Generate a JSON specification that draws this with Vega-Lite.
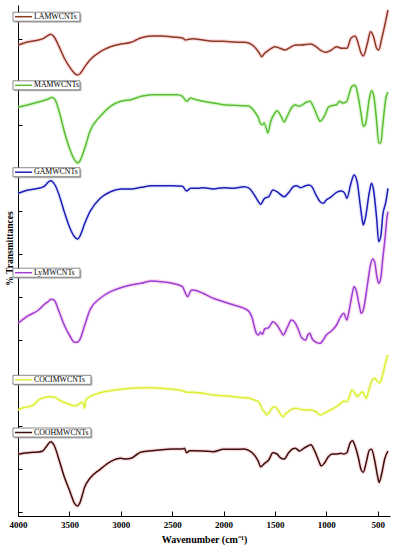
{
  "$schema": "https://vega.github.io/schema/vega-lite/v6.json",
  "width": 372,
  "height": 511,
  "autosize": {"type": "none"},
  "padding": {"left": 18, "top": 5, "right": 4, "bottom": 34},
  "background": "white",
  "config": {
    "view": {"stroke": null},
    "axis": {"grid": false, "domainColor": "#000", "tickColor": "#000", "labelFont": "Liberation Serif", "titleFont": "Liberation Serif", "labelFontWeight": "bold", "titleFontWeight": "bold", "labelColor": "#000", "titleColor": "#000"}
  },
  "datasets": {
    "spectra": [
      {"s":"LAMWCNTs","w":4000,"t":471},{"s":"LAMWCNTs","w":3900,"t":474.3},{"s":"LAMWCNTs","w":3800,"t":476},{"s":"LAMWCNTs","w":3750,"t":477.7},{"s":"LAMWCNTs","w":3700,"t":481},{"s":"LAMWCNTs","w":3680,"t":481.7},{"s":"LAMWCNTs","w":3650,"t":479.3},{"s":"LAMWCNTs","w":3600,"t":469.3},{"s":"LAMWCNTs","w":3550,"t":458},{"s":"LAMWCNTs","w":3500,"t":449.3},{"s":"LAMWCNTs","w":3450,"t":442.7},{"s":"LAMWCNTs","w":3420,"t":441},{"s":"LAMWCNTs","w":3400,"t":442},{"s":"LAMWCNTs","w":3350,"t":449.3},{"s":"LAMWCNTs","w":3300,"t":456},{"s":"LAMWCNTs","w":3200,"t":464.3},{"s":"LAMWCNTs","w":3100,"t":469.3},{"s":"LAMWCNTs","w":3000,"t":472},{"s":"LAMWCNTs","w":2900,"t":473.7},{"s":"LAMWCNTs","w":2850,"t":476},{"s":"LAMWCNTs","w":2800,"t":478.3},{"s":"LAMWCNTs","w":2700,"t":480},{"s":"LAMWCNTs","w":2600,"t":480},{"s":"LAMWCNTs","w":2500,"t":479},{"s":"LAMWCNTs","w":2400,"t":478},{"s":"LAMWCNTs","w":2370,"t":476},{"s":"LAMWCNTs","w":2340,"t":476.7},{"s":"LAMWCNTs","w":2300,"t":477.3},{"s":"LAMWCNTs","w":2200,"t":476},{"s":"LAMWCNTs","w":2100,"t":474.7},{"s":"LAMWCNTs","w":2000,"t":474.7},{"s":"LAMWCNTs","w":1900,"t":474},{"s":"LAMWCNTs","w":1800,"t":473.7},{"s":"LAMWCNTs","w":1750,"t":472.7},{"s":"LAMWCNTs","w":1700,"t":469.3},{"s":"LAMWCNTs","w":1650,"t":462.7},{"s":"LAMWCNTs","w":1630,"t":459.3},{"s":"LAMWCNTs","w":1600,"t":462.7},{"s":"LAMWCNTs","w":1550,"t":466.7},{"s":"LAMWCNTs","w":1500,"t":469.3},{"s":"LAMWCNTs","w":1450,"t":467.7},{"s":"LAMWCNTs","w":1400,"t":466},{"s":"LAMWCNTs","w":1350,"t":468.7},{"s":"LAMWCNTs","w":1300,"t":471},{"s":"LAMWCNTs","w":1250,"t":471},{"s":"LAMWCNTs","w":1150,"t":472},{"s":"LAMWCNTs","w":1100,"t":469.3},{"s":"LAMWCNTs","w":1050,"t":465.3},{"s":"LAMWCNTs","w":1000,"t":463.7},{"s":"LAMWCNTs","w":950,"t":466},{"s":"LAMWCNTs","w":900,"t":469.3},{"s":"LAMWCNTs","w":850,"t":467.7},{"s":"LAMWCNTs","w":800,"t":467.7},{"s":"LAMWCNTs","w":760,"t":477.7},{"s":"LAMWCNTs","w":720,"t":480},{"s":"LAMWCNTs","w":700,"t":476},{"s":"LAMWCNTs","w":660,"t":462.7},{"s":"LAMWCNTs","w":640,"t":460},{"s":"LAMWCNTs","w":600,"t":472.7},{"s":"LAMWCNTs","w":570,"t":484.3},{"s":"LAMWCNTs","w":540,"t":479.3},{"s":"LAMWCNTs","w":510,"t":467.7},{"s":"LAMWCNTs","w":490,"t":466},{"s":"LAMWCNTs","w":460,"t":477.7},{"s":"LAMWCNTs","w":430,"t":491},{"s":"LAMWCNTs","w":410,"t":501},{"s":"LAMWCNTs","w":400,"t":506},

      {"s":"MAMWCNTs","w":4000,"t":408.7},{"s":"MAMWCNTs","w":3900,"t":411.3},{"s":"MAMWCNTs","w":3800,"t":414},{"s":"MAMWCNTs","w":3700,"t":417.3},{"s":"MAMWCNTs","w":3670,"t":418.7},{"s":"MAMWCNTs","w":3640,"t":416.3},{"s":"MAMWCNTs","w":3600,"t":404.7},{"s":"MAMWCNTs","w":3550,"t":384.7},{"s":"MAMWCNTs","w":3500,"t":368},{"s":"MAMWCNTs","w":3450,"t":356.3},{"s":"MAMWCNTs","w":3420,"t":353},{"s":"MAMWCNTs","w":3400,"t":354.7},{"s":"MAMWCNTs","w":3350,"t":368},{"s":"MAMWCNTs","w":3300,"t":384.7},{"s":"MAMWCNTs","w":3200,"t":399.7},{"s":"MAMWCNTs","w":3100,"t":409.7},{"s":"MAMWCNTs","w":3000,"t":414.7},{"s":"MAMWCNTs","w":2900,"t":416.3},{"s":"MAMWCNTs","w":2800,"t":419.7},{"s":"MAMWCNTs","w":2700,"t":421.3},{"s":"MAMWCNTs","w":2600,"t":421.3},{"s":"MAMWCNTs","w":2500,"t":421.3},{"s":"MAMWCNTs","w":2450,"t":421.3},{"s":"MAMWCNTs","w":2400,"t":419.7},{"s":"MAMWCNTs","w":2360,"t":414.7},{"s":"MAMWCNTs","w":2320,"t":418},{"s":"MAMWCNTs","w":2300,"t":417.3},{"s":"MAMWCNTs","w":2200,"t":414.7},{"s":"MAMWCNTs","w":2100,"t":413},{"s":"MAMWCNTs","w":2000,"t":411.3},{"s":"MAMWCNTs","w":1900,"t":410.7},{"s":"MAMWCNTs","w":1800,"t":410.3},{"s":"MAMWCNTs","w":1750,"t":409.7},{"s":"MAMWCNTs","w":1700,"t":404.7},{"s":"MAMWCNTs","w":1660,"t":398},{"s":"MAMWCNTs","w":1640,"t":392},{"s":"MAMWCNTs","w":1620,"t":391.3},{"s":"MAMWCNTs","w":1605,"t":393},{"s":"MAMWCNTs","w":1580,"t":386.3},{"s":"MAMWCNTs","w":1570,"t":383},{"s":"MAMWCNTs","w":1540,"t":394.7},{"s":"MAMWCNTs","w":1500,"t":403},{"s":"MAMWCNTs","w":1480,"t":405.3},{"s":"MAMWCNTs","w":1440,"t":399.7},{"s":"MAMWCNTs","w":1410,"t":394},{"s":"MAMWCNTs","w":1380,"t":399.7},{"s":"MAMWCNTs","w":1340,"t":408},{"s":"MAMWCNTs","w":1300,"t":411.3},{"s":"MAMWCNTs","w":1270,"t":409.7},{"s":"MAMWCNTs","w":1230,"t":411.3},{"s":"MAMWCNTs","w":1190,"t":414},{"s":"MAMWCNTs","w":1160,"t":414.7},{"s":"MAMWCNTs","w":1120,"t":408},{"s":"MAMWCNTs","w":1080,"t":398},{"s":"MAMWCNTs","w":1060,"t":394.7},{"s":"MAMWCNTs","w":1020,"t":399.7},{"s":"MAMWCNTs","w":980,"t":408.7},{"s":"MAMWCNTs","w":950,"t":410.3},{"s":"MAMWCNTs","w":900,"t":411.3},{"s":"MAMWCNTs","w":870,"t":414.7},{"s":"MAMWCNTs","w":840,"t":413},{"s":"MAMWCNTs","w":800,"t":414.7},{"s":"MAMWCNTs","w":780,"t":421.3},{"s":"MAMWCNTs","w":750,"t":429.7},{"s":"MAMWCNTs","w":720,"t":430.7},{"s":"MAMWCNTs","w":700,"t":424.7},{"s":"MAMWCNTs","w":660,"t":401.3},{"s":"MAMWCNTs","w":640,"t":389.7},{"s":"MAMWCNTs","w":620,"t":391.3},{"s":"MAMWCNTs","w":580,"t":418},{"s":"MAMWCNTs","w":560,"t":425.3},{"s":"MAMWCNTs","w":540,"t":421.3},{"s":"MAMWCNTs","w":510,"t":394.7},{"s":"MAMWCNTs","w":490,"t":373},{"s":"MAMWCNTs","w":470,"t":373},{"s":"MAMWCNTs","w":450,"t":391.3},{"s":"MAMWCNTs","w":420,"t":418},{"s":"MAMWCNTs","w":400,"t":424},

      {"s":"GAMWCNTs","w":4000,"t":322.7},{"s":"GAMWCNTs","w":3900,"t":326},{"s":"GAMWCNTs","w":3800,"t":327.7},{"s":"GAMWCNTs","w":3750,"t":329.3},{"s":"GAMWCNTs","w":3700,"t":334.3},{"s":"GAMWCNTs","w":3680,"t":335.3},{"s":"GAMWCNTs","w":3640,"t":331},{"s":"GAMWCNTs","w":3600,"t":321},{"s":"GAMWCNTs","w":3550,"t":304.3},{"s":"GAMWCNTs","w":3500,"t":289.3},{"s":"GAMWCNTs","w":3450,"t":279.3},{"s":"GAMWCNTs","w":3420,"t":277},{"s":"GAMWCNTs","w":3400,"t":279.3},{"s":"GAMWCNTs","w":3350,"t":292.7},{"s":"GAMWCNTs","w":3300,"t":304.3},{"s":"GAMWCNTs","w":3200,"t":317.7},{"s":"GAMWCNTs","w":3100,"t":324.3},{"s":"GAMWCNTs","w":3000,"t":327},{"s":"GAMWCNTs","w":2900,"t":327},{"s":"GAMWCNTs","w":2800,"t":328.7},{"s":"GAMWCNTs","w":2700,"t":330.3},{"s":"GAMWCNTs","w":2600,"t":330.3},{"s":"GAMWCNTs","w":2500,"t":330.3},{"s":"GAMWCNTs","w":2400,"t":329.7},{"s":"GAMWCNTs","w":2360,"t":325},{"s":"GAMWCNTs","w":2320,"t":327.7},{"s":"GAMWCNTs","w":2250,"t":327.7},{"s":"GAMWCNTs","w":2200,"t":328.3},{"s":"GAMWCNTs","w":2100,"t":327},{"s":"GAMWCNTs","w":2000,"t":328.3},{"s":"GAMWCNTs","w":1900,"t":327.7},{"s":"GAMWCNTs","w":1800,"t":329.3},{"s":"GAMWCNTs","w":1750,"t":327.7},{"s":"GAMWCNTs","w":1700,"t":321},{"s":"GAMWCNTs","w":1660,"t":314.3},{"s":"GAMWCNTs","w":1640,"t":311.7},{"s":"GAMWCNTs","w":1600,"t":317.7},{"s":"GAMWCNTs","w":1560,"t":319.3},{"s":"GAMWCNTs","w":1520,"t":326},{"s":"GAMWCNTs","w":1480,"t":324.3},{"s":"GAMWCNTs","w":1440,"t":321},{"s":"GAMWCNTs","w":1410,"t":319.3},{"s":"GAMWCNTs","w":1360,"t":324.3},{"s":"GAMWCNTs","w":1320,"t":329.3},{"s":"GAMWCNTs","w":1290,"t":330.3},{"s":"GAMWCNTs","w":1250,"t":328.3},{"s":"GAMWCNTs","w":1200,"t":330.3},{"s":"GAMWCNTs","w":1170,"t":331},{"s":"GAMWCNTs","w":1140,"t":329.3},{"s":"GAMWCNTs","w":1100,"t":321},{"s":"GAMWCNTs","w":1060,"t":314.3},{"s":"GAMWCNTs","w":1030,"t":312.7},{"s":"GAMWCNTs","w":1000,"t":316},{"s":"GAMWCNTs","w":950,"t":319.3},{"s":"GAMWCNTs","w":900,"t":323.7},{"s":"GAMWCNTs","w":850,"t":325},{"s":"GAMWCNTs","w":820,"t":322.7},{"s":"GAMWCNTs","w":800,"t":317.7},{"s":"GAMWCNTs","w":760,"t":332.7},{"s":"GAMWCNTs","w":730,"t":341},{"s":"GAMWCNTs","w":700,"t":334.3},{"s":"GAMWCNTs","w":670,"t":311},{"s":"GAMWCNTs","w":650,"t":296},{"s":"GAMWCNTs","w":640,"t":291},{"s":"GAMWCNTs","w":620,"t":297.7},{"s":"GAMWCNTs","w":580,"t":324.3},{"s":"GAMWCNTs","w":560,"t":332.7},{"s":"GAMWCNTs","w":540,"t":326},{"s":"GAMWCNTs","w":510,"t":297.7},{"s":"GAMWCNTs","w":490,"t":274.3},{"s":"GAMWCNTs","w":470,"t":279.3},{"s":"GAMWCNTs","w":450,"t":301},{"s":"GAMWCNTs","w":420,"t":314.3},{"s":"GAMWCNTs","w":400,"t":327.7},

      {"s":"LyMWCNTs","w":4000,"t":192.7},{"s":"LyMWCNTs","w":3900,"t":200.3},{"s":"LyMWCNTs","w":3800,"t":206},{"s":"LyMWCNTs","w":3750,"t":211},{"s":"LyMWCNTs","w":3700,"t":215},{"s":"LyMWCNTs","w":3680,"t":216.7},{"s":"LyMWCNTs","w":3650,"t":216},{"s":"LyMWCNTs","w":3600,"t":204.3},{"s":"LyMWCNTs","w":3550,"t":191},{"s":"LyMWCNTs","w":3500,"t":181},{"s":"LyMWCNTs","w":3450,"t":173.7},{"s":"LyMWCNTs","w":3420,"t":173.7},{"s":"LyMWCNTs","w":3400,"t":176},{"s":"LyMWCNTs","w":3350,"t":191},{"s":"LyMWCNTs","w":3300,"t":206},{"s":"LyMWCNTs","w":3200,"t":217.7},{"s":"LyMWCNTs","w":3100,"t":224.3},{"s":"LyMWCNTs","w":3000,"t":228.3},{"s":"LyMWCNTs","w":2900,"t":231},{"s":"LyMWCNTs","w":2800,"t":232.7},{"s":"LyMWCNTs","w":2700,"t":235},{"s":"LyMWCNTs","w":2600,"t":234.3},{"s":"LyMWCNTs","w":2500,"t":232.7},{"s":"LyMWCNTs","w":2400,"t":229.3},{"s":"LyMWCNTs","w":2370,"t":222.7},{"s":"LyMWCNTs","w":2350,"t":219.3},{"s":"LyMWCNTs","w":2320,"t":225},{"s":"LyMWCNTs","w":2300,"t":226},{"s":"LyMWCNTs","w":2200,"t":222.7},{"s":"LyMWCNTs","w":2100,"t":217.7},{"s":"LyMWCNTs","w":2000,"t":214.3},{"s":"LyMWCNTs","w":1900,"t":211},{"s":"LyMWCNTs","w":1800,"t":207.7},{"s":"LyMWCNTs","w":1750,"t":204.3},{"s":"LyMWCNTs","w":1720,"t":197.7},{"s":"LyMWCNTs","w":1700,"t":189.3},{"s":"LyMWCNTs","w":1680,"t":182.7},{"s":"LyMWCNTs","w":1660,"t":181},{"s":"LyMWCNTs","w":1640,"t":183.7},{"s":"LyMWCNTs","w":1620,"t":181.7},{"s":"LyMWCNTs","w":1600,"t":187},{"s":"LyMWCNTs","w":1560,"t":188.3},{"s":"LyMWCNTs","w":1520,"t":194.3},{"s":"LyMWCNTs","w":1480,"t":191},{"s":"LyMWCNTs","w":1440,"t":184.3},{"s":"LyMWCNTs","w":1420,"t":181},{"s":"LyMWCNTs","w":1380,"t":188.3},{"s":"LyMWCNTs","w":1340,"t":196},{"s":"LyMWCNTs","w":1300,"t":192.7},{"s":"LyMWCNTs","w":1270,"t":186},{"s":"LyMWCNTs","w":1240,"t":178.3},{"s":"LyMWCNTs","w":1200,"t":176},{"s":"LyMWCNTs","w":1180,"t":181},{"s":"LyMWCNTs","w":1160,"t":182.7},{"s":"LyMWCNTs","w":1140,"t":177.7},{"s":"LyMWCNTs","w":1100,"t":173.7},{"s":"LyMWCNTs","w":1060,"t":172.7},{"s":"LyMWCNTs","w":1030,"t":176},{"s":"LyMWCNTs","w":1000,"t":181},{"s":"LyMWCNTs","w":950,"t":185},{"s":"LyMWCNTs","w":900,"t":191},{"s":"LyMWCNTs","w":860,"t":199.3},{"s":"LyMWCNTs","w":830,"t":202.7},{"s":"LyMWCNTs","w":800,"t":196},{"s":"LyMWCNTs","w":780,"t":204.3},{"s":"LyMWCNTs","w":750,"t":221},{"s":"LyMWCNTs","w":730,"t":229.3},{"s":"LyMWCNTs","w":710,"t":226},{"s":"LyMWCNTs","w":680,"t":211},{"s":"LyMWCNTs","w":660,"t":202.7},{"s":"LyMWCNTs","w":640,"t":206},{"s":"LyMWCNTs","w":600,"t":231},{"s":"LyMWCNTs","w":570,"t":251},{"s":"LyMWCNTs","w":550,"t":257},{"s":"LyMWCNTs","w":530,"t":254.3},{"s":"LyMWCNTs","w":510,"t":241},{"s":"LyMWCNTs","w":490,"t":232.7},{"s":"LyMWCNTs","w":470,"t":237.7},{"s":"LyMWCNTs","w":450,"t":257.7},{"s":"LyMWCNTs","w":430,"t":276},{"s":"LyMWCNTs","w":410,"t":298},{"s":"LyMWCNTs","w":400,"t":304.3},

      {"s":"COCIMWCNTs","w":4000,"t":106},{"s":"COCIMWCNTs","w":3950,"t":108.3},{"s":"COCIMWCNTs","w":3900,"t":109.3},{"s":"COCIMWCNTs","w":3850,"t":111},{"s":"COCIMWCNTs","w":3800,"t":116},{"s":"COCIMWCNTs","w":3750,"t":118.3},{"s":"COCIMWCNTs","w":3700,"t":119.3},{"s":"COCIMWCNTs","w":3650,"t":119},{"s":"COCIMWCNTs","w":3600,"t":116},{"s":"COCIMWCNTs","w":3550,"t":113.7},{"s":"COCIMWCNTs","w":3500,"t":111.7},{"s":"COCIMWCNTs","w":3450,"t":110.3},{"s":"COCIMWCNTs","w":3420,"t":111},{"s":"COCIMWCNTs","w":3400,"t":112.7},{"s":"COCIMWCNTs","w":3370,"t":113.7},{"s":"COCIMWCNTs","w":3352,"t":107.7},{"s":"COCIMWCNTs","w":3340,"t":116},{"s":"COCIMWCNTs","w":3300,"t":119.3},{"s":"COCIMWCNTs","w":3200,"t":123.3},{"s":"COCIMWCNTs","w":3100,"t":125.3},{"s":"COCIMWCNTs","w":3000,"t":126.7},{"s":"COCIMWCNTs","w":2900,"t":127.7},{"s":"COCIMWCNTs","w":2800,"t":128.3},{"s":"COCIMWCNTs","w":2700,"t":128.3},{"s":"COCIMWCNTs","w":2600,"t":127.7},{"s":"COCIMWCNTs","w":2500,"t":126.7},{"s":"COCIMWCNTs","w":2400,"t":125.3},{"s":"COCIMWCNTs","w":2360,"t":123.7},{"s":"COCIMWCNTs","w":2300,"t":123.7},{"s":"COCIMWCNTs","w":2200,"t":122.7},{"s":"COCIMWCNTs","w":2100,"t":121},{"s":"COCIMWCNTs","w":2000,"t":120.3},{"s":"COCIMWCNTs","w":1900,"t":119.3},{"s":"COCIMWCNTs","w":1800,"t":118.3},{"s":"COCIMWCNTs","w":1750,"t":117.7},{"s":"COCIMWCNTs","w":1700,"t":116},{"s":"COCIMWCNTs","w":1660,"t":114.3},{"s":"COCIMWCNTs","w":1640,"t":111},{"s":"COCIMWCNTs","w":1620,"t":106},{"s":"COCIMWCNTs","w":1600,"t":104.3},{"s":"COCIMWCNTs","w":1580,"t":101},{"s":"COCIMWCNTs","w":1560,"t":102.7},{"s":"COCIMWCNTs","w":1530,"t":107.7},{"s":"COCIMWCNTs","w":1500,"t":109.3},{"s":"COCIMWCNTs","w":1470,"t":106},{"s":"COCIMWCNTs","w":1440,"t":101},{"s":"COCIMWCNTs","w":1420,"t":99.3},{"s":"COCIMWCNTs","w":1400,"t":101.7},{"s":"COCIMWCNTs","w":1370,"t":104.3},{"s":"COCIMWCNTs","w":1330,"t":107},{"s":"COCIMWCNTs","w":1300,"t":107.7},{"s":"COCIMWCNTs","w":1250,"t":106.7},{"s":"COCIMWCNTs","w":1200,"t":106},{"s":"COCIMWCNTs","w":1150,"t":106},{"s":"COCIMWCNTs","w":1100,"t":104.3},{"s":"COCIMWCNTs","w":1060,"t":101},{"s":"COCIMWCNTs","w":1020,"t":102.7},{"s":"COCIMWCNTs","w":980,"t":105},{"s":"COCIMWCNTs","w":940,"t":107},{"s":"COCIMWCNTs","w":900,"t":109.3},{"s":"COCIMWCNTs","w":860,"t":112.7},{"s":"COCIMWCNTs","w":830,"t":115},{"s":"COCIMWCNTs","w":800,"t":114.3},{"s":"COCIMWCNTs","w":770,"t":121},{"s":"COCIMWCNTs","w":750,"t":126},{"s":"COCIMWCNTs","w":720,"t":122.7},{"s":"COCIMWCNTs","w":700,"t":119.3},{"s":"COCIMWCNTs","w":680,"t":121},{"s":"COCIMWCNTs","w":650,"t":124.3},{"s":"COCIMWCNTs","w":610,"t":117.7},{"s":"COCIMWCNTs","w":590,"t":124.3},{"s":"COCIMWCNTs","w":560,"t":134.3},{"s":"COCIMWCNTs","w":530,"t":137.7},{"s":"COCIMWCNTs","w":500,"t":134.3},{"s":"COCIMWCNTs","w":480,"t":133},{"s":"COCIMWCNTs","w":460,"t":138},{"s":"COCIMWCNTs","w":440,"t":146},{"s":"COCIMWCNTs","w":420,"t":155},{"s":"COCIMWCNTs","w":400,"t":161},

      {"s":"COOHMWCNTs","w":4000,"t":61.7},{"s":"COOHMWCNTs","w":3950,"t":62.7},{"s":"COOHMWCNTs","w":3900,"t":63.3},{"s":"COOHMWCNTs","w":3850,"t":63.7},{"s":"COOHMWCNTs","w":3800,"t":64},{"s":"COOHMWCNTs","w":3760,"t":65},{"s":"COOHMWCNTs","w":3730,"t":68.7},{"s":"COOHMWCNTs","w":3700,"t":72.7},{"s":"COOHMWCNTs","w":3680,"t":74.3},{"s":"COOHMWCNTs","w":3650,"t":71},{"s":"COOHMWCNTs","w":3600,"t":56},{"s":"COOHMWCNTs","w":3550,"t":39.3},{"s":"COOHMWCNTs","w":3500,"t":26},{"s":"COOHMWCNTs","w":3450,"t":12.7},{"s":"COOHMWCNTs","w":3420,"t":10},{"s":"COOHMWCNTs","w":3400,"t":12.7},{"s":"COOHMWCNTs","w":3350,"t":29.3},{"s":"COOHMWCNTs","w":3300,"t":37.7},{"s":"COOHMWCNTs","w":3200,"t":46.7},{"s":"COOHMWCNTs","w":3100,"t":54.3},{"s":"COOHMWCNTs","w":3000,"t":57.7},{"s":"COOHMWCNTs","w":2950,"t":57},{"s":"COOHMWCNTs","w":2900,"t":57.7},{"s":"COOHMWCNTs","w":2850,"t":61},{"s":"COOHMWCNTs","w":2800,"t":64},{"s":"COOHMWCNTs","w":2700,"t":65.3},{"s":"COOHMWCNTs","w":2600,"t":66.3},{"s":"COOHMWCNTs","w":2500,"t":67},{"s":"COOHMWCNTs","w":2400,"t":67},{"s":"COOHMWCNTs","w":2380,"t":67.7},{"s":"COOHMWCNTs","w":2360,"t":63.3},{"s":"COOHMWCNTs","w":2330,"t":65.3},{"s":"COOHMWCNTs","w":2300,"t":65.3},{"s":"COOHMWCNTs","w":2200,"t":65},{"s":"COOHMWCNTs","w":2100,"t":64.3},{"s":"COOHMWCNTs","w":2000,"t":66.7},{"s":"COOHMWCNTs","w":1900,"t":66.7},{"s":"COOHMWCNTs","w":1800,"t":67},{"s":"COOHMWCNTs","w":1750,"t":65.3},{"s":"COOHMWCNTs","w":1700,"t":61},{"s":"COOHMWCNTs","w":1660,"t":54.3},{"s":"COOHMWCNTs","w":1640,"t":49.3},{"s":"COOHMWCNTs","w":1600,"t":52.7},{"s":"COOHMWCNTs","w":1560,"t":56},{"s":"COOHMWCNTs","w":1520,"t":63.3},{"s":"COOHMWCNTs","w":1480,"t":62},{"s":"COOHMWCNTs","w":1440,"t":57.7},{"s":"COOHMWCNTs","w":1410,"t":57},{"s":"COOHMWCNTs","w":1370,"t":62.7},{"s":"COOHMWCNTs","w":1330,"t":67},{"s":"COOHMWCNTs","w":1300,"t":67.7},{"s":"COOHMWCNTs","w":1260,"t":65},{"s":"COOHMWCNTs","w":1220,"t":67.7},{"s":"COOHMWCNTs","w":1180,"t":70},{"s":"COOHMWCNTs","w":1150,"t":71.3},{"s":"COOHMWCNTs","w":1110,"t":64.3},{"s":"COOHMWCNTs","w":1070,"t":54.3},{"s":"COOHMWCNTs","w":1050,"t":50},{"s":"COOHMWCNTs","w":1020,"t":52.7},{"s":"COOHMWCNTs","w":980,"t":59.3},{"s":"COOHMWCNTs","w":940,"t":62},{"s":"COOHMWCNTs","w":900,"t":62},{"s":"COOHMWCNTs","w":860,"t":62.7},{"s":"COOHMWCNTs","w":830,"t":62},{"s":"COOHMWCNTs","w":800,"t":63.3},{"s":"COOHMWCNTs","w":770,"t":72.7},{"s":"COOHMWCNTs","w":745,"t":75.3},{"s":"COOHMWCNTs","w":720,"t":70},{"s":"COOHMWCNTs","w":690,"t":59.3},{"s":"COOHMWCNTs","w":660,"t":46},{"s":"COOHMWCNTs","w":640,"t":43.7},{"s":"COOHMWCNTs","w":610,"t":54.3},{"s":"COOHMWCNTs","w":580,"t":66},{"s":"COOHMWCNTs","w":560,"t":66.7},{"s":"COOHMWCNTs","w":530,"t":56},{"s":"COOHMWCNTs","w":500,"t":39.3},{"s":"COOHMWCNTs","w":485,"t":33.5},{"s":"COOHMWCNTs","w":460,"t":42.7},{"s":"COOHMWCNTs","w":430,"t":57.7},{"s":"COOHMWCNTs","w":400,"t":65}
    ],
    "labels": [
      {"s":"LAMWCNTs","t":499.3},
      {"s":"MAMWCNTs","t":430.7},
      {"s":"GAMWCNTs","t":343.8},
      {"s":"LyMWCNTs","t":243.3},
      {"s":"COCIMWCNTs","t":136.2},
      {"s":"COOHMWCNTs","t":83.5}
    ]
  },
  "layer": [
    {
      "data": {"name": "spectra"},
      "mark": {"type": "line", "interpolate": "monotone", "strokeWidth": 4, "opacity": 0.35},
      "encoding": {
        "x": {"field": "w", "type": "quantitative", "scale": {"domain": [4000, 380], "nice": false, "zero": false},
          "axis": {"title": "Wavenumber (cm⁻¹)", "values": [4000,3750,3500,3250,3000,2750,2500,2250,2000,1750,1500,1250,1000,750,500], "format": "d",
            "labelExpr": "datum.value % 500 === 0 ? datum.label : ''", "labelFlush": false, "labelOverlap": false,
            "labelFontSize": 9, "titleFontSize": 10, "labelPadding": 9, "titlePadding": 5,
            "tickSize": {"condition": {"test": "datum.value % 500 === 0", "value": -5}, "value": -3}, "domainWidth": 1}},
        "y": {"field": "t", "type": "quantitative", "scale": {"domain": [0, 511], "nice": false, "zero": false},
          "axis": {"title": "% Transmittances", "labels": false, "titleFontSize": 9.5, "titlePadding": 3, "titleY": 243,
            "values": [4.3,15.05,25.8,36.55,47.3,58.05,68.8,79.55,90.3,101.05,111.8,122.55,133.3,144.05,154.8,165.55,176.3,187.05,197.8,208.55,219.3,230.05,240.8,251.55,262.3,273.05,283.8,294.55,305.3,316.05,326.8,337.55,348.3,359.05,369.8,380.55,391.3,402.05,412.8,423.55,434.3,445.05,455.8,466.55,477.3,488.05,498.8,509.55],
            "tickSize": {"condition": {"test": "round((datum.value - 4.3) / 10.75) % 2 === 0", "value": -4}, "value": -2.5}, "domainWidth": 1}},
        "stroke": {"field": "s", "type": "nominal", "legend": null,
          "scale": {"domain": ["LAMWCNTs","MAMWCNTs","GAMWCNTs","LyMWCNTs","COCIMWCNTs","COOHMWCNTs"], "range": ["#F59AA8","#9FE88A","#B8C0F0","#F29AD8","#EEF590","#F0A0A0"]}},
        "order": {"field": "w", "type": "quantitative", "sort": "descending"}
      }
    },
    {
      "data": {"name": "spectra"},
      "mark": {"type": "line", "interpolate": "monotone", "strokeWidth": 1.5},
      "encoding": {
        "x": {"field": "w", "type": "quantitative"},
        "y": {"field": "t", "type": "quantitative"},
        "color": {"field": "s", "type": "nominal", "legend": null,
          "scale": {"domain": ["LAMWCNTs","MAMWCNTs","GAMWCNTs","LyMWCNTs","COCIMWCNTs","COOHMWCNTs"], "range": ["#8B3A24","#5DBE34","#1C1CB8","#9B3FD6","#DDEE33","#3D0E0E"]}},
        "order": {"field": "w", "type": "quantitative", "sort": "descending"}
      }
    },
    {
      "data": {"name": "labels"},
      "transform": [
        {"calculate": "datum.t + 4.5", "as": "ty1"},
        {"calculate": "datum.t - 4.5", "as": "ty2"},
        {"calculate": "3825 - length(datum.s) * 53.5", "as": "wr"},
        {"calculate": "4049", "as": "wl"},
        {"calculate": "4029", "as": "ws1"},
        {"calculate": "3863", "as": "ws2"},
        {"calculate": "3844", "as": "wt"}
      ],
      "layer": [
        {
          "mark": {"type": "rect", "fill": "#9a9a9a", "opacity": 0.7, "xOffset": 1.5, "yOffset": 1.5, "x2Offset": 1.5, "y2Offset": 1.5},
          "encoding": {
            "x": {"field": "wl", "type": "quantitative"},
            "x2": {"field": "wr"},
            "y": {"field": "ty1", "type": "quantitative"},
            "y2": {"field": "ty2"}
          }
        },
        {
          "mark": {"type": "rect", "fill": "white", "stroke": "#6e6e6e", "strokeWidth": 0.8},
          "encoding": {
            "x": {"field": "wl", "type": "quantitative"},
            "x2": {"field": "wr"},
            "y": {"field": "ty1", "type": "quantitative"},
            "y2": {"field": "ty2"}
          }
        },
        {
          "mark": {"type": "rule", "strokeWidth": 1.5},
          "encoding": {
            "x": {"field": "ws1", "type": "quantitative"},
            "x2": {"field": "ws2"},
            "y": {"field": "t", "type": "quantitative"},
            "color": {"field": "s", "type": "nominal", "legend": null}
          }
        },
        {
          "mark": {"type": "text", "align": "left", "baseline": "middle", "font": "Liberation Serif", "fontSize": 7.8, "color": "#000"},
          "encoding": {
            "x": {"field": "wt", "type": "quantitative"},
            "y": {"field": "t", "type": "quantitative"},
            "text": {"field": "s", "type": "nominal"}
          }
        }
      ]
    }
  ]
}
